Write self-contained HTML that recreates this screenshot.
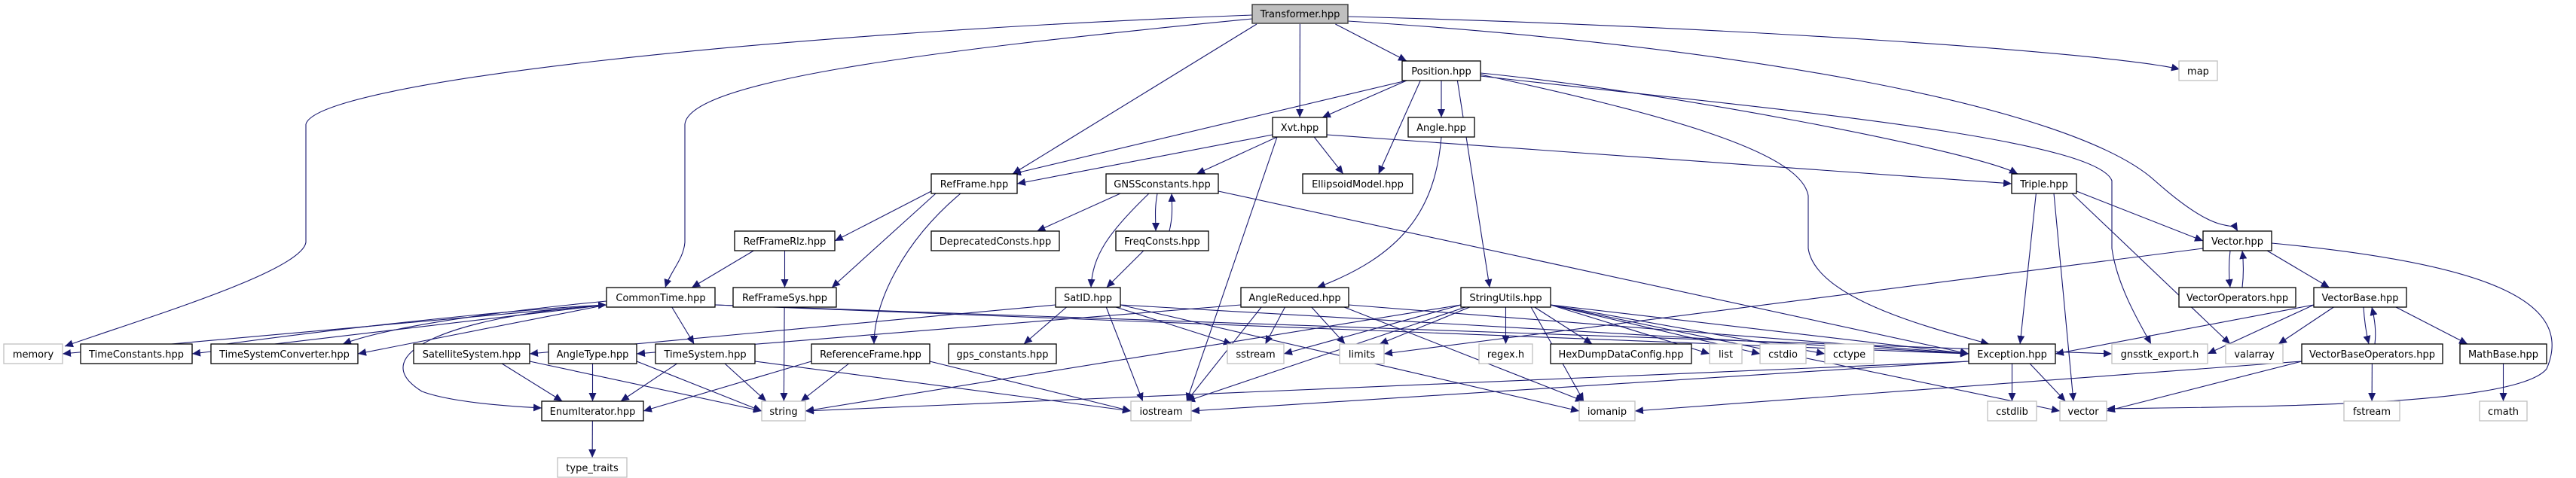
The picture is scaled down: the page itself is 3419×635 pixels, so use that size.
<!DOCTYPE html>
<html><head><meta charset="utf-8"><style>
html,body{margin:0;padding:0;background:#fff;}
svg{display:block;}
text{font-family:"DejaVu Sans","Liberation Sans",sans-serif;font-size:13px;fill:#000;}
</style></head><body>
<svg id="g" width="3419" height="635" viewBox="0 0 3419 635" xmlns="http://www.w3.org/2000/svg">
<defs><marker id="a" markerWidth="12" markerHeight="10" refX="11" refY="5" orient="auto" markerUnits="userSpaceOnUse"><path d="M0,0 L11,5 L0,10 z" fill="#191970"/></marker></defs>
<g id="edges" fill="none" stroke="#191970" stroke-width="1.1"></g>
<g id="nodes">
<rect x="1662" y="6" width="127" height="25" fill="#bfbfbf" stroke="#404040" stroke-width="1.5"/><text x="1725.5" y="23" text-anchor="middle">Transformer.hpp</text>
<rect x="1861" y="81" width="104" height="26" fill="#fff" stroke="#000" stroke-width="1.3"/><text x="1913" y="99" text-anchor="middle">Position.hpp</text>
<rect x="2892" y="81" width="51" height="26" fill="#fff" stroke="#bfbfbf" stroke-width="1.3"/><text x="2917.5" y="99" text-anchor="middle">map</text>
<rect x="1689" y="156" width="72" height="26" fill="#fff" stroke="#000" stroke-width="1.3"/><text x="1725" y="174" text-anchor="middle">Xvt.hpp</text>
<rect x="1869" y="156" width="88" height="26" fill="#fff" stroke="#000" stroke-width="1.3"/><text x="1913" y="174" text-anchor="middle">Angle.hpp</text>
<rect x="1236" y="231" width="114" height="26" fill="#fff" stroke="#000" stroke-width="1.3"/><text x="1293" y="249" text-anchor="middle">RefFrame.hpp</text>
<rect x="1468" y="231" width="149" height="26" fill="#fff" stroke="#000" stroke-width="1.3"/><text x="1542.5" y="249" text-anchor="middle">GNSSconstants.hpp</text>
<rect x="1729" y="231" width="146" height="26" fill="#fff" stroke="#000" stroke-width="1.3"/><text x="1802" y="249" text-anchor="middle">EllipsoidModel.hpp</text>
<rect x="2670" y="231" width="86" height="26" fill="#fff" stroke="#000" stroke-width="1.3"/><text x="2713" y="249" text-anchor="middle">Triple.hpp</text>
<rect x="975" y="307" width="133" height="26" fill="#fff" stroke="#000" stroke-width="1.3"/><text x="1041.5" y="325" text-anchor="middle">RefFrameRlz.hpp</text>
<rect x="1236" y="307" width="170" height="26" fill="#fff" stroke="#000" stroke-width="1.3"/><text x="1321" y="325" text-anchor="middle">DeprecatedConsts.hpp</text>
<rect x="1481" y="307" width="123" height="26" fill="#fff" stroke="#000" stroke-width="1.3"/><text x="1542.5" y="325" text-anchor="middle">FreqConsts.hpp</text>
<rect x="2924" y="307" width="91" height="26" fill="#fff" stroke="#000" stroke-width="1.3"/><text x="2969.5" y="325" text-anchor="middle">Vector.hpp</text>
<rect x="805" y="382" width="144" height="26" fill="#fff" stroke="#000" stroke-width="1.3"/><text x="877" y="400" text-anchor="middle">CommonTime.hpp</text>
<rect x="973" y="382" width="137" height="26" fill="#fff" stroke="#000" stroke-width="1.3"/><text x="1041.5" y="400" text-anchor="middle">RefFrameSys.hpp</text>
<rect x="1401" y="382" width="86" height="26" fill="#fff" stroke="#000" stroke-width="1.3"/><text x="1444" y="400" text-anchor="middle">SatID.hpp</text>
<rect x="1647" y="382" width="143" height="26" fill="#fff" stroke="#000" stroke-width="1.3"/><text x="1718.5" y="400" text-anchor="middle">AngleReduced.hpp</text>
<rect x="1939" y="382" width="119" height="26" fill="#fff" stroke="#000" stroke-width="1.3"/><text x="1998.5" y="400" text-anchor="middle">StringUtils.hpp</text>
<rect x="2892" y="382" width="155" height="26" fill="#fff" stroke="#000" stroke-width="1.3"/><text x="2969.5" y="400" text-anchor="middle">VectorOperators.hpp</text>
<rect x="3071" y="382" width="123" height="26" fill="#fff" stroke="#000" stroke-width="1.3"/><text x="3132.5" y="400" text-anchor="middle">VectorBase.hpp</text>
<rect x="5" y="457" width="78" height="26" fill="#fff" stroke="#bfbfbf" stroke-width="1.3"/><text x="44" y="475" text-anchor="middle">memory</text>
<rect x="107" y="457" width="148" height="26" fill="#fff" stroke="#000" stroke-width="1.3"/><text x="181" y="475" text-anchor="middle">TimeConstants.hpp</text>
<rect x="280" y="457" width="195" height="26" fill="#fff" stroke="#000" stroke-width="1.3"/><text x="377.5" y="475" text-anchor="middle">TimeSystemConverter.hpp</text>
<rect x="549" y="457" width="154" height="26" fill="#fff" stroke="#000" stroke-width="1.3"/><text x="626" y="475" text-anchor="middle">SatelliteSystem.hpp</text>
<rect x="728" y="457" width="117" height="26" fill="#fff" stroke="#000" stroke-width="1.3"/><text x="786.5" y="475" text-anchor="middle">AngleType.hpp</text>
<rect x="870" y="457" width="132" height="26" fill="#fff" stroke="#000" stroke-width="1.3"/><text x="936" y="475" text-anchor="middle">TimeSystem.hpp</text>
<rect x="1077" y="457" width="157" height="26" fill="#fff" stroke="#000" stroke-width="1.3"/><text x="1155.5" y="475" text-anchor="middle">ReferenceFrame.hpp</text>
<rect x="1259" y="457" width="143" height="26" fill="#fff" stroke="#000" stroke-width="1.3"/><text x="1330.5" y="475" text-anchor="middle">gps_constants.hpp</text>
<rect x="1629" y="457" width="75" height="26" fill="#fff" stroke="#bfbfbf" stroke-width="1.3"/><text x="1666.5" y="475" text-anchor="middle">sstream</text>
<rect x="1778" y="457" width="59" height="26" fill="#fff" stroke="#bfbfbf" stroke-width="1.3"/><text x="1807.5" y="475" text-anchor="middle">limits</text>
<rect x="1963" y="457" width="71" height="26" fill="#fff" stroke="#bfbfbf" stroke-width="1.3"/><text x="1998.5" y="475" text-anchor="middle">regex.h</text>
<rect x="2058" y="457" width="187" height="26" fill="#fff" stroke="#000" stroke-width="1.3"/><text x="2151.5" y="475" text-anchor="middle">HexDumpDataConfig.hpp</text>
<rect x="2269" y="457" width="43" height="26" fill="#fff" stroke="#bfbfbf" stroke-width="1.3"/><text x="2290.5" y="475" text-anchor="middle">list</text>
<rect x="2336" y="457" width="61" height="26" fill="#fff" stroke="#bfbfbf" stroke-width="1.3"/><text x="2366.5" y="475" text-anchor="middle">cstdio</text>
<rect x="2422" y="457" width="65" height="26" fill="#fff" stroke="#bfbfbf" stroke-width="1.3"/><text x="2454.5" y="475" text-anchor="middle">cctype</text>
<rect x="2613" y="457" width="115" height="26" fill="#fff" stroke="#000" stroke-width="1.3"/><text x="2670.5" y="475" text-anchor="middle">Exception.hpp</text>
<rect x="2803" y="457" width="127" height="26" fill="#fff" stroke="#bfbfbf" stroke-width="1.3"/><text x="2866.5" y="475" text-anchor="middle">gnsstk_export.h</text>
<rect x="2954" y="457" width="76" height="26" fill="#fff" stroke="#bfbfbf" stroke-width="1.3"/><text x="2992" y="475" text-anchor="middle">valarray</text>
<rect x="3055" y="457" width="187" height="26" fill="#fff" stroke="#000" stroke-width="1.3"/><text x="3148.5" y="475" text-anchor="middle">VectorBaseOperators.hpp</text>
<rect x="3265" y="457" width="115" height="26" fill="#fff" stroke="#000" stroke-width="1.3"/><text x="3322.5" y="475" text-anchor="middle">MathBase.hpp</text>
<rect x="719" y="533" width="135" height="26" fill="#fff" stroke="#000" stroke-width="1.3"/><text x="786.5" y="551" text-anchor="middle">EnumIterator.hpp</text>
<rect x="1011" y="533" width="58" height="26" fill="#fff" stroke="#bfbfbf" stroke-width="1.3"/><text x="1040" y="551" text-anchor="middle">string</text>
<rect x="1501" y="533" width="80" height="26" fill="#fff" stroke="#bfbfbf" stroke-width="1.3"/><text x="1541" y="551" text-anchor="middle">iostream</text>
<rect x="2096" y="533" width="74" height="26" fill="#fff" stroke="#bfbfbf" stroke-width="1.3"/><text x="2133" y="551" text-anchor="middle">iomanip</text>
<rect x="2638" y="533" width="65" height="26" fill="#fff" stroke="#bfbfbf" stroke-width="1.3"/><text x="2670.5" y="551" text-anchor="middle">cstdlib</text>
<rect x="2734" y="533" width="62" height="26" fill="#fff" stroke="#bfbfbf" stroke-width="1.3"/><text x="2765" y="551" text-anchor="middle">vector</text>
<rect x="3111" y="533" width="74" height="26" fill="#fff" stroke="#bfbfbf" stroke-width="1.3"/><text x="3148" y="551" text-anchor="middle">fstream</text>
<rect x="3291" y="533" width="63" height="26" fill="#fff" stroke="#bfbfbf" stroke-width="1.3"/><text x="3322.5" y="551" text-anchor="middle">cmath</text>
<rect x="740" y="608" width="92" height="26" fill="#fff" stroke="#bfbfbf" stroke-width="1.3"/><text x="786" y="626" text-anchor="middle">type_traits</text>
</g>
</svg>
<script>
var R={1:6,2:81,3:156,4:231,5:307,6:382,7:457,8:533,9:608};
var N={
Tr:[1662,1789,1],Po:[1861,1965,2],map:[2892,2943,2],Xvt:[1689,1761,3],An:[1869,1957,3],
RF:[1236,1350,4],GC:[1468,1617,4],EM:[1729,1875,4],Tri:[2670,2756,4],
RFR:[975,1108,5],DC:[1236,1406,5],FC:[1481,1604,5],Vec:[2924,3015,5],
CT:[805,949,6],RFS:[973,1110,6],Sat:[1401,1487,6],AR:[1647,1790,6],SU:[1939,2058,6],VO:[2892,3047,6],VB:[3071,3194,6],
mem:[5,83,7],TC:[107,255,7],TSC:[280,475,7],SS:[549,703,7],AT:[728,845,7],TS:[870,1002,7],RefF:[1077,1234,7],gps:[1259,1402,7],
ss:[1629,1704,7],lim:[1778,1837,7],rx:[1963,2034,7],hex:[2058,2245,7],list:[2269,2312,7],cstdio:[2336,2397,7],cctype:[2422,2487,7],
Ex:[2613,2728,7],gx:[2803,2930,7],va:[2954,3030,7],VBO:[3055,3242,7],MB:[3265,3380,7],
EI:[719,854,8],str:[1011,1069,8],io:[1501,1581,8],iom:[2096,2170,8],cl:[2638,2703,8],vec:[2734,2796,8],fs:[3111,3185,8],cm:[3291,3354,8],tt:[740,832,9]};
var E=[
"Tr Xvt","Tr Po","Tr RF","Po RF","Po Xvt","Po An","Po EM","Po SU","Xvt RF","Xvt GC","Xvt EM","Xvt Tri","Xvt io",
"RF RFR","RF RFS","GC DC","GC Ex","FC Sat","Tri Vec","Tri Ex","Tri vec","Tri va","Vec VB","Vec lim",
"RFR CT","RFR RFS","RFS str","CT mem","CT TC","CT TSC","CT TS","CT Ex","CT gx",
"TS EI","TS str","TS io","SS EI","SS str","AT EI","AT str","Sat SS","Sat gps","Sat io","Sat ss","Sat iom","Sat Ex",
"AR AT","AR io","AR ss","AR lim","AR iom","AR Ex","RefF str","RefF io","RefF EI",
"SU lim","SU ss","SU str","SU io","SU rx","SU hex","SU list","SU cstdio","SU cctype","SU iom","SU Ex","SU vec",
"Ex str","Ex cl","Ex vec","Ex io","VB Ex","VB gx","VB va","VB MB","VBO fs","VBO vec","VBO iom","MB cm","EI tt"];
var g=document.getElementById('edges'),ns="http://www.w3.org/2000/svg";
function P(d){var p=document.createElementNS(ns,'path');p.setAttribute('d',d);p.setAttribute('marker-end','url(#a)');g.appendChild(p);}
function cl(v,a,b){return Math.max(a,Math.min(b,v));}
E.forEach(function(s){var k=s.split(' '),a=N[k[0]],b=N[k[1]];
var ay1=R[a[2]],ay2=ay1+26,by1=R[b[2]],by2=by1+26;
var acx=(a[0]+a[1])/2,bcx=(b[0]+b[1])/2,aw=(a[1]-a[0])/2-6,bw=(b[1]-b[0])/2-6;
var sx=acx+cl((bcx-acx)*0.25,-aw,aw),sy=ay2;
var ex,ey;
var dx=bcx-acx,dy=by1-ay2;
if(Math.abs(dx)>5*dy){ex=dx>0?b[0]:b[1];ey=by1+13;sy=ay2-3;sx=dx>0?a[1]:a[0];if(Math.abs(dx)<200){sx=acx+cl(dx*0.4,-aw,aw);sy=ay2;}}
else{ex=bcx+cl((acx-bcx)*0.25,-bw,bw);ey=by1;}
P("M"+sx+","+sy+" L"+ex+","+ey);});
P("M1662,20 C1000,45 420,110 406,165 L406,322 C400,360 200,420 86,460");
P("M1662,25 C1200,70 915,110 909,165 L909,322 C907,345 890,360 883,382");
P("M1789,22 C2300,35 2800,70 2893,92");
P("M1789,28 C2300,60 2750,140 2860,240 C2950,320 2960,290 2970,307");
P("M1965,99 C2200,150 2390,200 2400,260 L2400,330 C2410,400 2580,440 2640,457");
P("M1965,101 C2300,140 2780,180 2803,240 L2803,330 C2810,380 2840,430 2855,457");
P("M1965,97 C2200,120 2620,200 2678,231");
P("M1913,182 C1905,280 1860,340 1748,382");
P("M1275,257 C1200,320 1160,400 1160,457");
P("M1525,257 C1470,310 1450,340 1448,382");
P("M1536,257 C1532,280 1534,290 1534,307");
P("M1552,307 C1556,290 1556,280 1555,257");
P("M2960,333 C2958,350 2958,365 2960,382");
P("M2976,382 C2978,365 2978,350 2976,333");
P("M3015,323 C3300,350 3419,400 3380,490 C3340,540 3000,540 2796,543");
P("M3137,408 C3138,425 3140,440 3144,457");
P("M3152,457 C3154,440 3152,425 3148,408");
P("M805,405 C600,420 480,470 560,520 C600,535 680,540 719,542");
P("M805,400 C600,420 500,440 455,457");
P("M300,457 C500,430 700,410 805,405");
</script>
</body></html>
